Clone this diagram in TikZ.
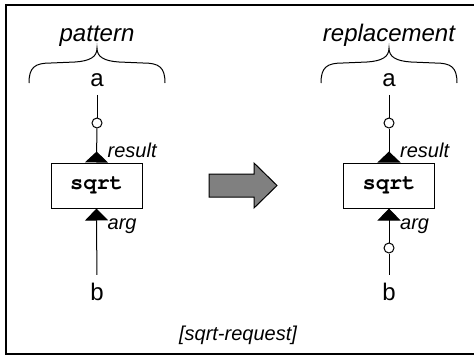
\documentclass[tikz,border=0pt]{standalone}
\usepackage{fontspec}
\setmainfont{Liberation Sans}
\newfontfamily\opfont{TeX Gyre Cursor}
\usetikzlibrary{arrows.meta,positioning}

\begin{document}
\begin{tikzpicture}[
    x=1pt, y=-1pt,
    wire/.style={line width=1pt},
    term/.style={font=\fontsize{24}{28}\selectfont, inner sep=8pt},
    op/.style={draw, line width=1pt, minimum width=91pt, minimum height=45pt,
               font=\fontsize{22}{26}\selectfont\opfont\bfseries},
    joint/.style={circle, draw, fill=white, line width=1pt, inner sep=0pt, minimum size=10pt},
    role/.style={anchor=base west, inner sep=0pt, font=\fontsize{20}{24}\selectfont\itshape},
    heading/.style={anchor=base, inner sep=0pt, font=\fontsize{24}{28}\selectfont\itshape},
    inport/.style={wire, -{Triangle[width=23pt,length=12pt]}},
    outport/.style={wire, -{Triangle[reversed,width=23pt,length=11pt]}}]
  \useasboundingbox (0,0) rectangle (474,356);
  % frame
  \draw[line width=2.4pt] (476,5) -- (6,5) -- (6,354) -- (476,354);

  % braces and headings over both sides
  \foreach \cx/\title in {97/pattern, 389/replacement} {
    \node[heading] at (\cx,41) {\title};
    \draw[wire] (\cx-68,83) .. controls (\cx-68,67) and (\cx-62,63) .. (\cx-46,63)
      -- (\cx-22,62) .. controls (\cx-7,61) and (\cx,57) .. (\cx,48)
      .. controls (\cx,57) and (\cx+7,61) .. (\cx+22,62)
      -- (\cx+46,63) .. controls (\cx+62,63) and (\cx+68,67) .. (\cx+68,83);
  }

  % left: the pattern
  \node[op] (lbox) at (96.5,185.5) {sqrt};
  \node[term] (la) at (97,80) {a};
  \node[term] (lb) at (97,292) {b};
  \node[joint] (lja) at (97,123) {};
  \draw[wire] (la) -- (lja);
  \draw[outport] (lja) -- (lbox.north);
  \draw[inport] (lb) -- (lbox.south);
  \node[role] at ([xshift=11pt,yshift=5pt]lbox.north) {result};
  \node[role] at ([xshift=11pt,yshift=-21pt]lbox.south) {arg};

  % the rewrite arrow
  \draw[line width=1pt, fill=gray] (209,174) -- (254,174) -- (254,163) -- (277,185.5)
    -- (254,208) -- (254,197) -- (209,197) -- cycle;

  % right: the replacement
  \node[op] (rbox) at (389,185.5) {sqrt};
  \node[term] (ra) at (389,80) {a};
  \node[term] (rb) at (389,292) {b};
  \node[joint] (rja) at (389,123) {};
  \node[joint] (rjb) at (389,248) {};
  \draw[wire] (ra) -- (rja);
  \draw[outport] (rja) -- (rbox.north);
  \draw[wire] (rb) -- (rjb);
  \draw[inport] (rjb) -- (rbox.south);
  \node[role] at ([xshift=11pt,yshift=5pt]rbox.north) {result};
  \node[role] at ([xshift=11pt,yshift=-21pt]rbox.south) {arg};

  \node[anchor=base, inner sep=0pt, font=\fontsize{20}{24}\selectfont\itshape] (rule)
    at (238,340) {[sqrt-request]};
\end{tikzpicture}
\end{document}
